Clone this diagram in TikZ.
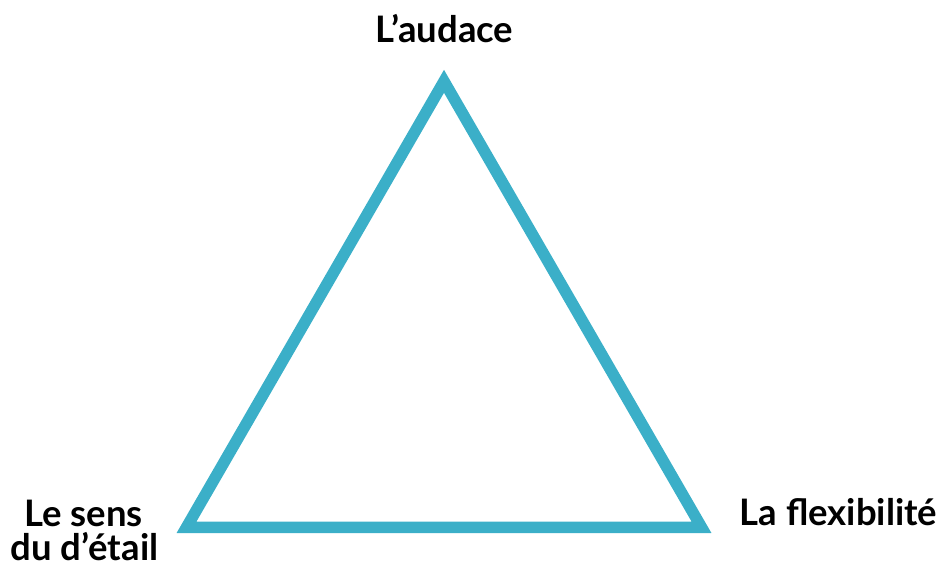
\documentclass[tikz,border=0pt]{standalone}
\usepackage{fontspec}
\setmainfont{Lato}
\definecolor{tri}{RGB}{59,175,200}
\tikzset{
  lbl/.style={anchor=base, inner sep=0pt, font=\fontsize{36.5}{36.5}\selectfont\bfseries, text=black},
  tri line/.style={draw=tri, line width=11.5pt, line join=miter}
}
\begin{document}
\begin{tikzpicture}[x=1pt,y=-1pt]
\useasboundingbox (0,0) rectangle (941,571);
\coordinate (A) at (444,81.3);
\coordinate (B) at (186.5,527.3);
\coordinate (C) at (701.5,527.3);
\draw[tri line] (A) -- (B) -- (C) -- cycle;
\node[lbl] (top) at (444.5,42) {L’audace};
\node[lbl] (left1) at (83.5,526) {Le sens};
\node[lbl] (left2) at (84.5,560) {du d’étail};
\node[lbl] (right) at (838.5,525) {La flexibilité};
\end{tikzpicture}
\end{document}
